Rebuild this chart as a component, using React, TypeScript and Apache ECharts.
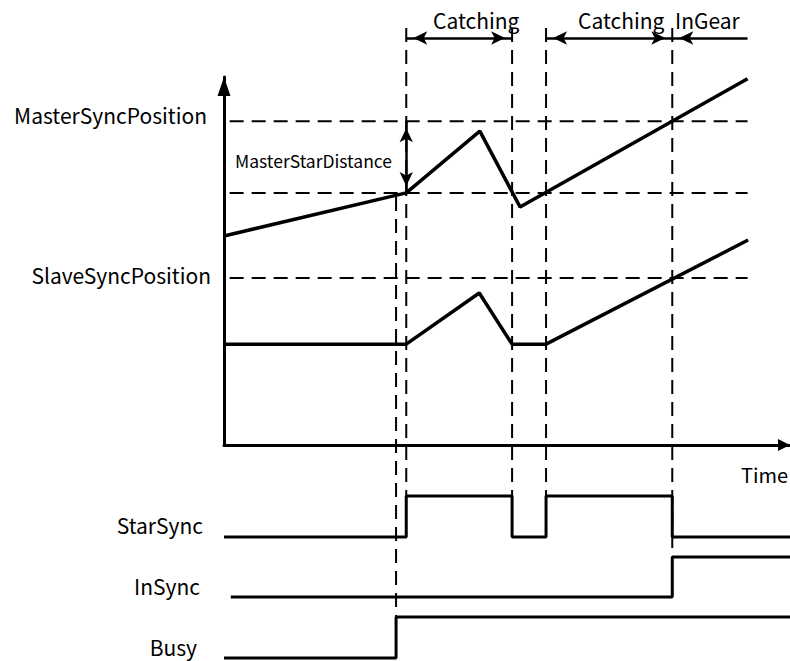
import React, { useEffect, useRef } from 'react';
import * as echarts from 'echarts';

// ---- Data (time in arbitrary units 0..10, position in % of axis 0..100) ----
const timeMax = 10;
const posMax = 100;

const masterTime = [0, 3.22, 4.52, 5.23, 9.25];
const masterPos = [56.8, 68.5, 85.3, 64.7, 99.5];

const slaveTime = [0, 3.22, 4.51, 5.09, 5.69, 9.26];
const slavePos = [27.4, 27.4, 41.3, 27.4, 27.4, 55.7];

// horizontal reference levels: MasterSyncPosition, master start, SlaveSyncPosition
const levelValues = [88, 68.5, 45.4];
const levelStart = 0.1;
const levelEnd = 9.25;

// vertical event markers (busy, catch start, catch stop, catch restart, in gear)
const eventTimes = [3.04, 3.22, 5.09, 5.69, 7.92];
const eventTop = [67.4, 113.3, 113.3, 113.3, 113.3];
const eventBottom = [-46.7, -13.9, -13.9, -13.9, -28];

// phase annotations (drawn on their own row, level 0.5 of 0..1)
const phaseLabels = ['Catching', 'Catching', 'InGear'];
const phaseStart = [3.22, 5.69, 7.92];
const phaseEnd = [5.09, 7.92, 9.25];
const phaseLevel = 0.5;

// MasterStarDistance annotation
const distanceTime = 3.22;
const distanceFrom = 88;
const distanceTo = 68.5;

// digital signals
const starSyncTime = [0, 3.22, 5.09, 5.69, 7.92, 10];
const starSyncState = [0, 1, 0, 1, 0, 0];
const inSyncTime = [0.12, 7.92, 10];
const inSyncState = [0, 1, 1];
const busyTime = [0, 3.04, 10];
const busyState = [0, 1, 1];

const signalNames = ['StarSync', 'InSync', 'Busy'];
const levelLabelNames = ['MasterSyncPosition', 'SlaveSyncPosition'];

const FONT = '"Noto Sans CJK SC", "Noto Sans", sans-serif';

function zip(a: number[], b: number[]) {
  return a.map((v, i) => [v, b[i]]);
}

export default function App() {
  const ref = useRef<HTMLDivElement>(null);

  useEffect(() => {
    document.body.style.margin = '0';
    if (!ref.current) return;
    const chart = echarts.init(ref.current, null, { renderer: 'svg' });

    const black = '#000';
    const dashStyle = { color: black, width: 2, type: [14, 8] as any };

    const grids = [
      { left: 224, right: 0, top: 77, height: 368 },
      { left: 224, right: 0, top: 496, height: 41 },
      { left: 224, right: 0, top: 557, height: 40 },
      { left: 224, right: 0, top: 617, height: 41 },
      { left: 224, right: 0, top: 28, height: 20 },
    ];

    const xAxes: any[] = grids.map((_, i) => ({
      type: 'value',
      gridIndex: i,
      min: 0,
      max: timeMax,
      show: i === 0,
      axisLine: {
        show: i === 0,
        onZero: false,
        symbol: ['none', 'triangle'],
        symbolSize: [12, 12],
        symbolOffset: [0, -6],
        lineStyle: { color: black, width: 3 },
      },
      axisTick: { show: false },
      axisLabel: { show: false },
      splitLine: { show: false },
    }));

    const yAxes: any[] = grids.map((_, i) => ({
      type: 'value',
      gridIndex: i,
      min: 0,
      max: i === 0 ? posMax : 1,
      show: i === 0,
      axisLine: {
        show: i === 0,
        onZero: false,
        symbol: ['none', 'triangle'],
        symbolSize: [13, 19],
        symbolOffset: [0, -9.5],
        lineStyle: { color: black, width: 3 },
      },
      axisTick: { show: false },
      axisLabel: { show: false },
      splitLine: { show: false },
    }));

    const series: any[] = [];

    levelValues.forEach((v) => {
      series.push({
        type: 'line',
        xAxisIndex: 0,
        yAxisIndex: 0,
        data: [[levelStart, v], [levelEnd, v]],
        symbol: 'none',
        clip: false,
        silent: true,
        lineStyle: dashStyle,
        z: 2,
      });
    });

    eventTimes.forEach((t, i) => {
      series.push({
        type: 'line',
        xAxisIndex: 0,
        yAxisIndex: 0,
        data: [[t, eventTop[i]], [t, eventBottom[i]]],
        symbol: 'none',
        clip: false,
        silent: true,
        lineStyle: dashStyle,
        z: 2,
      });
    });

    const markLineBase = {
      silent: true,
      symbol: ['arrow', 'arrow'],
      symbolSize: [10, 14],
      symbolOffset: [[0, 7], [0, 7]],
      label: { show: false },
      emphasis: { disabled: true },
      lineStyle: { type: 'solid', color: black, width: 2.5 },
      itemStyle: { color: black },
    };

    const phaseArrows: any[] = phaseLabels.map((_, i) => [
      { coord: [phaseStart[i], phaseLevel], symbol: 'arrow' },
      { coord: [phaseEnd[i], phaseLevel], symbol: i === 2 ? 'none' : 'arrow' },
    ]);

    series.push({
      type: 'line',
      name: 'Phases',
      xAxisIndex: 4,
      yAxisIndex: 4,
      data: [[phaseStart[0], phaseLevel]],
      symbol: 'none',
      silent: true,
      clip: false,
      lineStyle: { opacity: 0 },
      markLine: { ...markLineBase, data: phaseArrows },
      z: 5,
    });

    series.push({
      type: 'line',
      name: 'Master',
      xAxisIndex: 0,
      yAxisIndex: 0,
      data: zip(masterTime, masterPos),
      symbol: 'none',
      clip: false,
      silent: true,
      lineStyle: { color: black, width: 3.5 },
      z: 5,
      markLine: {
        ...markLineBase,
        data: [[
          { coord: [distanceTime, distanceFrom], symbol: 'arrow' },
          { coord: [distanceTime, distanceTo], symbol: 'arrow' },
        ]],
      },
    });

    series.push({
      type: 'line',
      name: 'Slave',
      xAxisIndex: 0,
      yAxisIndex: 0,
      data: zip(slaveTime, slavePos),
      symbol: 'none',
      clip: false,
      silent: true,
      lineStyle: { color: black, width: 3.5 },
      z: 5,
    });

    const signals = [
      zip(starSyncTime, starSyncState),
      zip(inSyncTime, inSyncState),
      zip(busyTime, busyState),
    ];
    signals.forEach((d, i) => {
      series.push({
        type: 'line',
        name: signalNames[i],
        xAxisIndex: i + 1,
        yAxisIndex: i + 1,
        data: d,
        step: 'end',
        symbol: 'none',
        clip: false,
        silent: true,
        lineStyle: { color: black, width: 3 },
        z: 5,
      });
    });

    const txt = (text: string, x: number, y: number, align: string, size = 21) => ({
      type: 'text',
      x,
      y,
      silent: true,
      style: {
        text,
        fill: black,
        font: `${size}px ${FONT}`,
        align,
        verticalAlign: 'middle',
      },
    });

    const graphic = [
      txt(levelLabelNames[0], 207, 115, 'right'),
      txt(levelLabelNames[1], 211, 275, 'right'),
      txt('MasterStarDistance', 235, 160, 'left', 17.5),
      txt(signalNames[0], 203, 525, 'right'),
      txt(signalNames[1], 200, 586, 'right'),
      txt(signalNames[2], 197, 647, 'right'),
      txt('Time', 741, 474, 'left', 20),
      txt(phaseLabels[0], 433, 20, 'left'),
      txt(phaseLabels[1], 578, 20, 'left'),
      txt(phaseLabels[2], 675, 20, 'left'),
    ];

    chart.setOption({
      animation: false,
      backgroundColor: '#fff',
      grid: grids,
      xAxis: xAxes,
      yAxis: yAxes,
      series,
      graphic,
    });

    return () => chart.dispose();
  }, []);

  return <div ref={ref} style={{ width: 790, height: 661 }} />;
}
